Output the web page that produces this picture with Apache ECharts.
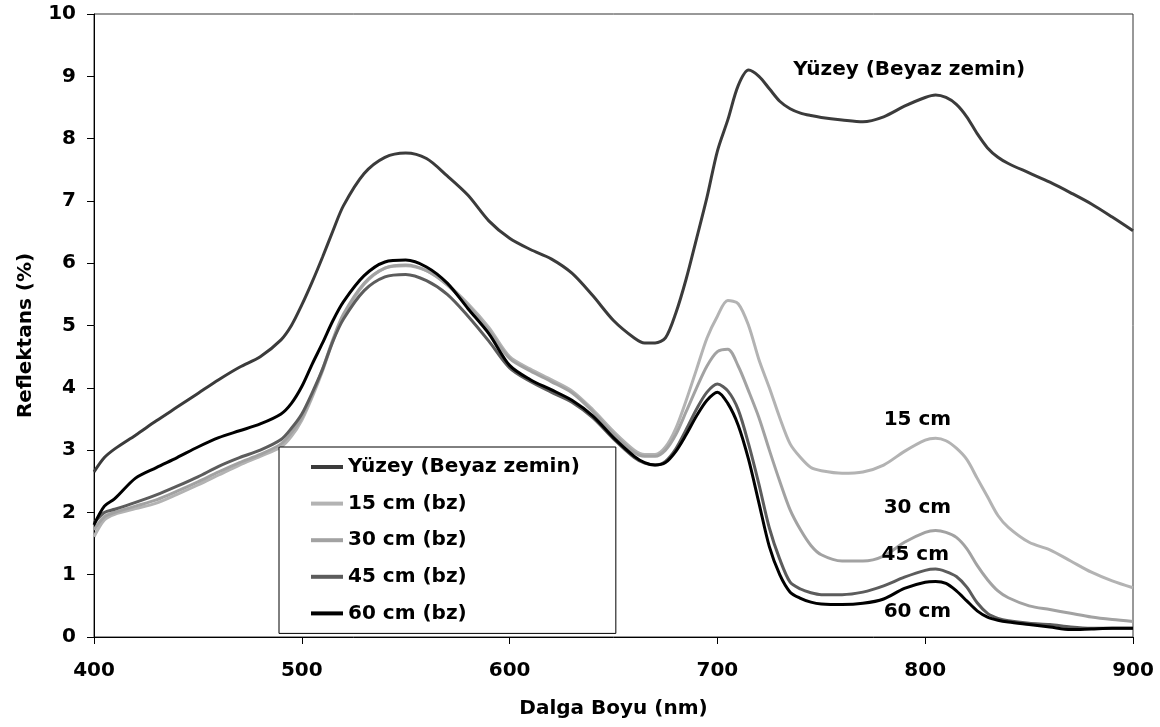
<!DOCTYPE html>
<html>
<head>
<meta charset="utf-8">
<script src="https://cdn.jsdelivr.net/npm/echarts@6/dist/echarts.min.js"></script>
<style>
  html, body { margin: 0; padding: 0; background: #fff; }
  #chart { width: 1160px; height: 727px; }
</style>
</head>
<body>
<div id="chart"></div>
<script>
// dalga boyu (nm) - ortak örnekleme noktalari
const wavelengths = [
  400, 405, 410,
  420, 430, 440, 450, 460, 470, 480, 490,
  495, 500, 505, 510, 515, 520,
  530, 540, 550, 560, 570, 580, 590, 600, 610, 620, 630, 640, 650, 660,
  665, 670, 675, 680, 685, 690, 695, 700, 705, 710, 715, 720, 725, 730, 735, 740, 745, 750,
  760, 770, 780, 790, 800,
  805, 810, 815, 820, 825, 830, 835, 840,
  850, 860, 870, 880, 890, 900
];

const yuzey = [
  2.65, 2.88, 3.02,
  3.24, 3.47, 3.69, 3.91, 4.13, 4.33, 4.50, 4.77,
  5.00, 5.33, 5.70, 6.10, 6.52, 6.92,
  7.44, 7.70, 7.77, 7.68, 7.40, 7.09, 6.68, 6.40, 6.22, 6.07, 5.84, 5.48, 5.08, 4.80,
  4.72, 4.72, 4.80, 5.20, 5.75, 6.40, 7.06, 7.80, 8.30, 8.85, 9.10, 9.00, 8.80, 8.60, 8.48, 8.41, 8.37, 8.34,
  8.30, 8.27, 8.35, 8.52, 8.66,
  8.70, 8.66, 8.55, 8.35, 8.08, 7.85, 7.70, 7.60,
  7.45, 7.30, 7.13, 6.95, 6.74, 6.52
];

const cm15 = [
  1.61, 1.88, 1.97,
  2.06, 2.15, 2.29, 2.44, 2.60, 2.76, 2.90, 3.05,
  3.22, 3.48, 3.85, 4.27, 4.75, 5.15,
  5.66, 5.92, 5.96, 5.88, 5.66, 5.35, 4.97, 4.50, 4.30, 4.13, 3.95, 3.65, 3.30, 3.00,
  2.93, 2.93, 3.05, 3.35, 3.80, 4.30, 4.80, 5.15, 5.40, 5.35, 5.00, 4.45, 4.00, 3.52, 3.10, 2.88, 2.72, 2.67,
  2.63, 2.65, 2.76, 2.98, 3.16,
  3.19, 3.15, 3.03, 2.85, 2.55, 2.25, 1.95, 1.76,
  1.52, 1.40, 1.22, 1.04, 0.90, 0.79
];

const cm30 = [
  1.72, 1.93, 2.00,
  2.10, 2.20, 2.34, 2.49, 2.65, 2.80, 2.93, 3.10,
  3.28, 3.52, 3.88, 4.30, 4.78, 5.18,
  5.68, 5.92, 5.97, 5.88, 5.65, 5.32, 4.92, 4.47, 4.27, 4.10, 3.92, 3.62, 3.26, 2.96,
  2.90, 2.90, 3.00, 3.25, 3.62, 4.00, 4.35, 4.58, 4.62, 4.35, 3.95, 3.52, 3.00, 2.50, 2.04, 1.72, 1.47, 1.32,
  1.22, 1.22, 1.30, 1.52, 1.68,
  1.71, 1.68, 1.60, 1.42, 1.15, 0.92, 0.74, 0.63,
  0.50, 0.44, 0.38, 0.32, 0.28, 0.25
];

const cm45 = [
  1.83, 2.00, 2.05,
  2.16, 2.28, 2.42, 2.57, 2.74, 2.88, 3.00, 3.17,
  3.35, 3.58, 3.92, 4.30, 4.75, 5.10,
  5.56, 5.78, 5.82, 5.72, 5.50, 5.15, 4.75, 4.32, 4.10, 3.93, 3.77, 3.52, 3.18, 2.88,
  2.79, 2.76, 2.82, 3.02, 3.33, 3.66, 3.93, 4.06, 3.95, 3.65, 3.10, 2.45, 1.75, 1.25, 0.88, 0.77, 0.71, 0.68,
  0.68, 0.72, 0.82, 0.96, 1.07,
  1.09, 1.05, 0.97, 0.80, 0.55, 0.38, 0.30, 0.26,
  0.22, 0.20, 0.16, 0.14, 0.14, 0.14
];

const cm60 = [
  1.80, 2.10, 2.22,
  2.55, 2.72, 2.88, 3.05, 3.20, 3.31, 3.42, 3.58,
  3.75, 4.02, 4.38, 4.72, 5.08, 5.38,
  5.80, 6.02, 6.05, 5.94, 5.68, 5.27, 4.87, 4.36, 4.13, 3.97, 3.80, 3.55, 3.20, 2.90,
  2.80, 2.76, 2.80, 2.98, 3.25, 3.55, 3.80, 3.93, 3.75, 3.40, 2.85, 2.15, 1.45, 1.00, 0.72, 0.62, 0.56, 0.53,
  0.52, 0.54, 0.61, 0.78, 0.88,
  0.89, 0.86, 0.74, 0.58, 0.42, 0.32, 0.27, 0.24,
  0.20, 0.16, 0.12, 0.13, 0.14, 0.14
];

const seriesNames = ["Yüzey (Beyaz zemin)", "15 cm (bz)", "30 cm (bz)", "45 cm (bz)", "60 cm (bz)"];
const seriesValues = [yuzey, cm15, cm30, cm45, cm60];
const seriesColors = ["#3b3b3b", "#b3b3b3", "#a2a2a2", "#5c5c5c", "#000000"];

const xTicks = [400, 500, 600, 700, 800, 900];
const yTicks = [0, 1, 2, 3, 4, 5, 6, 7, 8, 9, 10];

// etiketler: metin, x (nm), y (reflektans)
const curveLabels = [
  { text: "Yüzey (Beyaz zemin)", nm: 736.5, r: 9.1 },
  { text: "15 cm", nm: 780, r: 3.48 },
  { text: "30 cm", nm: 780, r: 2.08 },
  { text: "45 cm", nm: 779, r: 1.32 },
  { text: "60 cm", nm: 780, r: 0.4 }
];

const FONT = "DejaVu Sans";
const chart = echarts.init(document.getElementById("chart"));

const option = {
  animation: false,
  backgroundColor: "#fff",
  textStyle: { fontFamily: FONT },
  grid: {
    left: 94, right: 27, top: 14, bottom: 90,
    show: true, borderColor: "#333", borderWidth: 1
  },
  legend: {
    orient: "vertical",
    left: 279,
    top: 447,
    padding: [10, 36, 10, 32],
    itemWidth: 32,
    itemHeight: 4,
    itemGap: 16.6,
    icon: "rect",
    borderColor: "#000",
    borderWidth: 1,
    backgroundColor: "#fff",
    textStyle: { fontFamily: FONT, fontWeight: "bold", fontSize: 20, lineHeight: 20, color: "#000" },
    data: seriesNames
  },
  xAxis: {
    type: "value",
    min: 400, max: 900, interval: 100,
    name: "Dalga Boyu (nm)",
    nameLocation: "middle",
    nameGap: 62,
    nameTextStyle: { fontFamily: FONT, fontWeight: "bold", fontSize: 20, color: "#000" },
    axisLine: { show: true, onZero: false, lineStyle: { color: "#000", width: 1 } },
    axisTick: { show: true, length: 7, lineStyle: { color: "#000" } },
    axisLabel: {
      margin: 24, fontFamily: FONT, fontWeight: "bold", fontSize: 20, color: "#000",
      formatter: (v) => (xTicks.includes(v) ? String(v) : "")
    },
    splitLine: { show: false }
  },
  yAxis: {
    type: "value",
    min: 0, max: 10, interval: 1,
    name: "Reflektans (%)",
    nameLocation: "middle",
    nameGap: 58,
    nameTextStyle: {
      fontFamily: FONT, fontWeight: "bold", fontSize: 20, color: "#000",
      padding: [0, 20, 0, 0]
    },
    axisLine: { show: true, onZero: false, lineStyle: { color: "#000", width: 1 } },
    axisTick: { show: true, length: 7, lineStyle: { color: "#000" } },
    axisLabel: {
      margin: 18, fontFamily: FONT, fontWeight: "bold", fontSize: 20, color: "#000",
      formatter: (v) => (yTicks.includes(v) ? String(v) : "")
    },
    splitLine: { show: false }
  },
  series: seriesNames.map((name, i) => ({
    name,
    type: "line",
    data: wavelengths.map((w, j) => [w, seriesValues[i][j]]),
    showSymbol: false,
    symbol: "none",
    smooth: 0.3,
    color: seriesColors[i],
    lineStyle: { color: seriesColors[i], width: 3 },
    emphasis: { disabled: true },
    z: 2 + i
  }))
};

chart.setOption(option);

// egri etiketleri, veri koordinatindan piksele
chart.setOption({
  graphic: curveLabels.map((lb) => {
    const [px, py] = chart.convertToPixel({ gridIndex: 0 }, [lb.nm, lb.r]);
    return {
      type: "text",
      x: px,
      y: py,
      z: 50,
      style: {
        text: lb.text,
        fill: "#000",
        font: `bold 20px "${FONT}"`,
        textVerticalAlign: "middle"
      }
    };
  })
});
</script>
</body>
</html>
